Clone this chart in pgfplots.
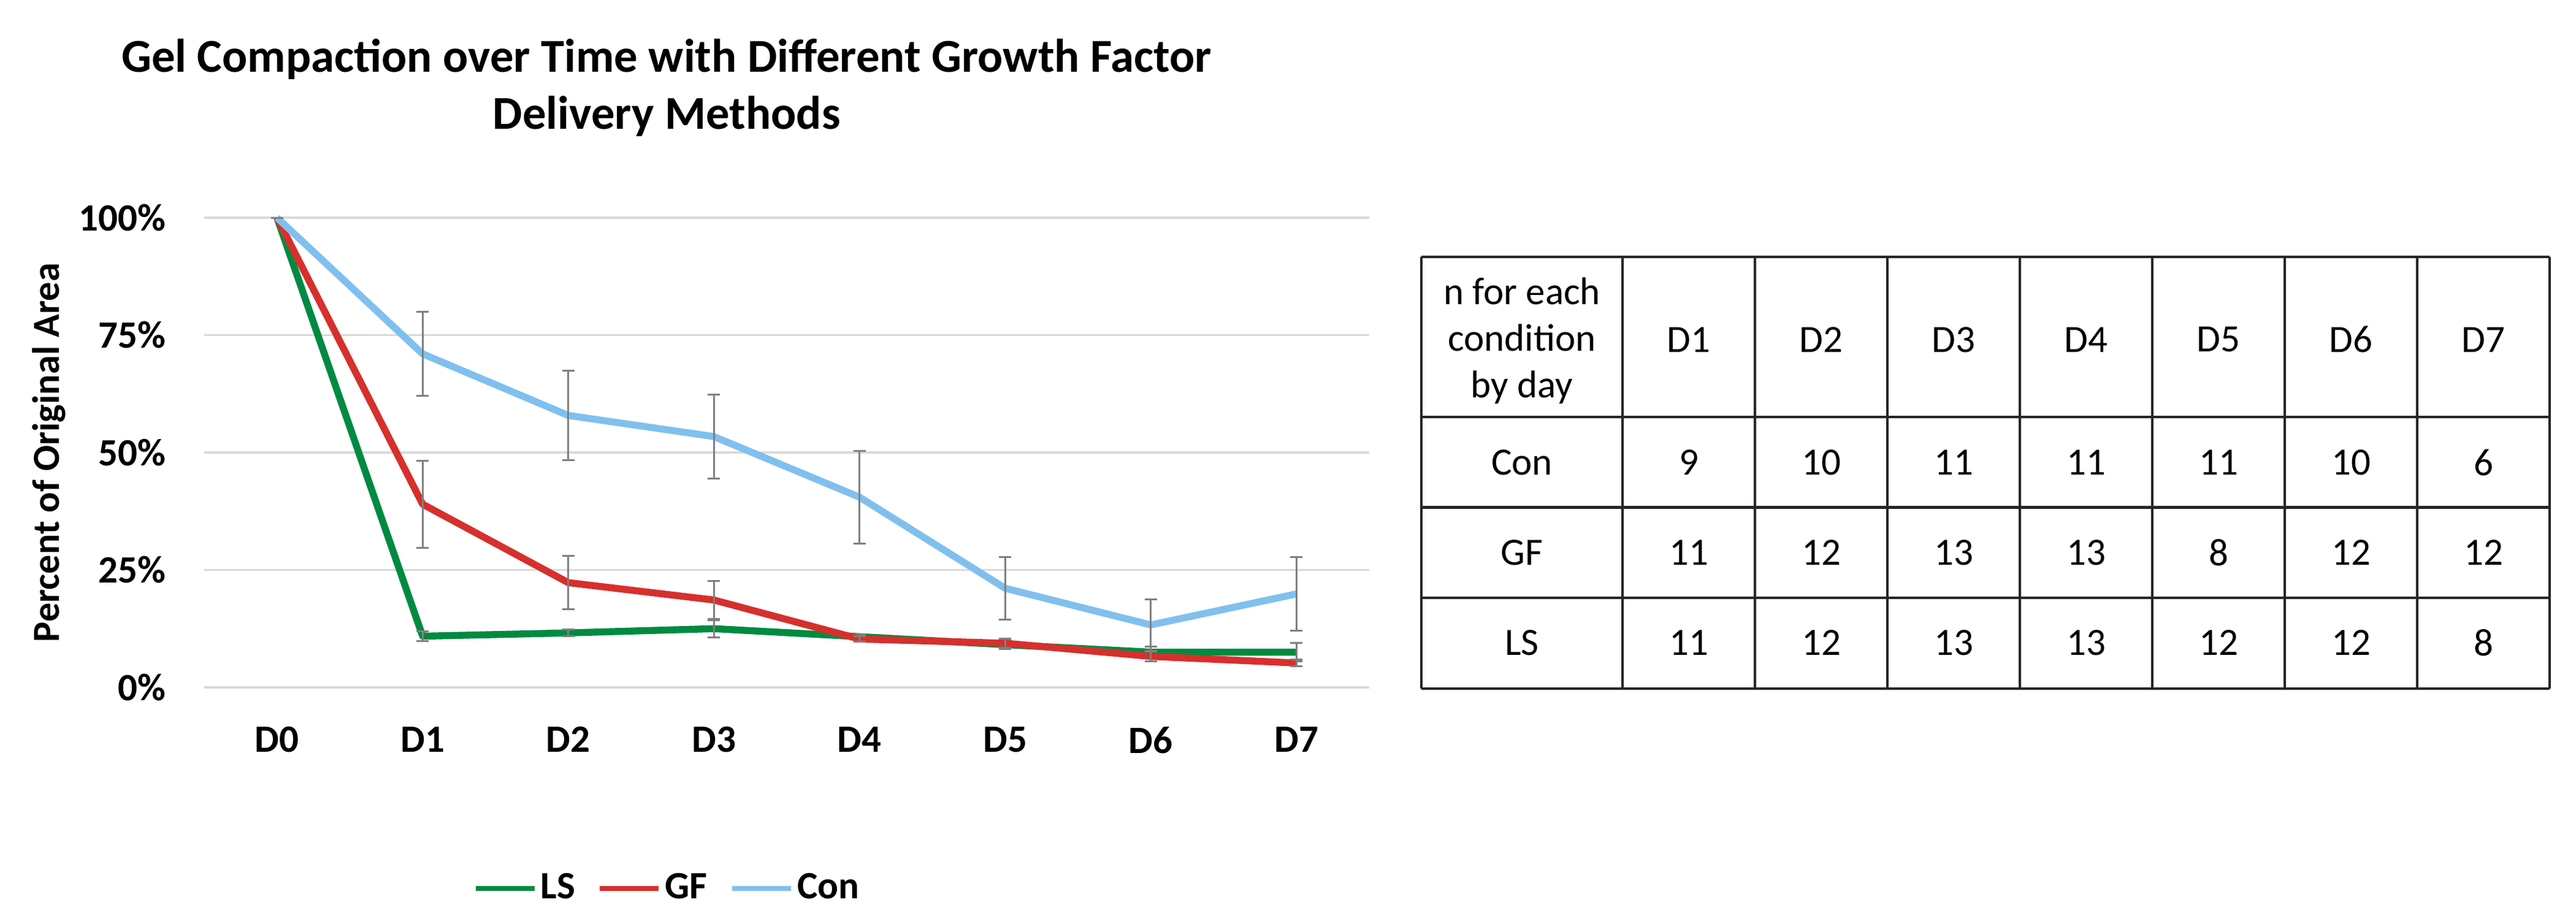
\documentclass[border=0pt]{standalone}
\usepackage{fontspec}
\setmainfont{Carlito}
\usepackage{pgfplots}
\pgfplotsset{compat=1.18}

\definecolor{lsgreen}{RGB}{0,138,66}
\definecolor{gfred}{RGB}{214,48,45}
\definecolor{conblue}{RGB}{128,192,238}
\definecolor{errgray}{RGB}{128,128,128}
\definecolor{gridgray}{RGB}{217,217,217}

\pgfplotsset{
  errs/.style={
    error bars/.cd, y dir=both, y explicit,
    error bar style={color=errgray, line width=0.5pt},
    error mark options={rotate=90, mark size=1.7pt, color=errgray, line width=0.5pt}
  }
}

\begin{document}
\begin{tikzpicture}
\path[use as bounding box] (0pt,0pt) rectangle (700.17pt,-250.17pt);

% title
\node[anchor=base, inner sep=0pt, font=\fontsize{12.8}{15}\selectfont\bfseries] at (181.2pt,-19.5pt)
  {Gel Compaction over Time with Different Growth Factor};
\node[anchor=base, inner sep=0pt, font=\fontsize{12.8}{15}\selectfont\bfseries] at (181.2pt,-35pt)
  {Delivery Methods};

\begin{axis}[
  at={(55.5pt,-186.83pt)}, anchor=south west,
  scale only axis, width=316.67pt, height=127.67pt,
  xmin=-0.5, xmax=7.5, ymin=0, ymax=100,
  clip=false,
  axis line style={draw=none},
  tick style={draw=none},
  ymajorgrids, major grid style={color=gridgray, line width=0.55pt},
  xtick={0,...,7}, xticklabels={D0,D1,D2,D3,D4,D5,D6,D7},
  ytick={0,25,50,75,100}, yticklabels={0\%,25\%,50\%,75\%,100\%},
  tick label style={font=\fontsize{10.5}{12.6}\selectfont\bfseries, inner sep=0pt},
  yticklabel style={anchor=east, xshift=-10.2pt},
  xticklabel style={anchor=north, yshift=-10.5pt},
  ylabel={Percent of Original Area},
  ylabel style={at={(axis description cs:-0.133,0.5)}, anchor=center,
    font=\fontsize{10.4}{12.5}\selectfont\bfseries},
  legend columns=3,
  legend style={at={(axis description cs:0.398,-0.428)}, anchor=center,
    draw=none, fill=none, font=\fontsize{10.5}{12.6}\selectfont\bfseries,
    nodes={inner sep=1pt},
    /tikz/every even column/.append style={column sep=5pt}},
  legend image code/.code={\draw[#1, line width=1.4pt] (0pt,0pt) -- (16pt,0pt);},
  every axis plot/.append style={line width=1.9pt, line join=round, mark=none},
]
\addplot[lsgreen, errs] coordinates {
  (0,100) +- (0,0)
  (1,10.9) +- (0,1.1)
  (2,11.6) +- (0,0.7)
  (3,12.5) +- (0,1.8)
  (4,10.8) +- (0,0.5)
  (5,9.1) +- (0,1.0)
  (6,7.5) +- (0,1.2)
  (7,7.5) +- (0,2.0)
};
\addlegendentry{LS}
\addplot[gfred, errs] coordinates {
  (0,100) +- (0,0)
  (1,39.0) +- (0,9.3)
  (2,22.3) +- (0,5.7)
  (3,18.6) +- (0,4.0)
  (4,10.3) +- (0,0.6)
  (5,9.4) +- (0,1.0)
  (6,6.6) +- (0,1.1)
  (7,5.2) +- (0,0.7)
};
\addlegendentry{GF}
\addplot[conblue, errs] coordinates {
  (0,100) +- (0,0)
  (1,71.0) +- (0,8.9)
  (2,57.9) +- (0,9.5)
  (3,53.4) +- (0,9.0)
  (4,40.5) +- (0,9.85)
  (5,21.1) +- (0,6.65)
  (6,13.3) +- (0,5.5)
  (7,19.9) +- (0,7.85)
};
\addlegendentry{Con}
\end{axis}

% table of n per condition and day
\begin{scope}[line width=0.75pt, black!85]
  \foreach \y in {-69.83,-113.33,-137.93,-162.53,-187.13}
    \draw (386.33pt,\y pt) -- (693pt,\y pt);
  \foreach \x in {386.33,441,477,513,549,585,621,657,693}
    \draw (\x pt,-69.83pt) -- (\x pt,-187.13pt);
\end{scope}
\begin{scope}[every node/.style={font=\fontsize{10.5}{12.7}\selectfont, inner sep=0pt, anchor=center}]
  \node[align=center] at (413.67pt,-92.6pt) {n for each\\condition\\by day};
  \foreach \d [count=\i from 0] in {D1,D2,D3,D4,D5,D6,D7}
    \node at ({459pt+36pt*\i},-92.3pt) {\d};
  \node at (413.67pt,-125.7pt) {Con};
  \node at (413.67pt,-150.2pt) {GF};
  \node at (413.67pt,-174.75pt) {LS};
  \foreach \v [count=\i from 0] in {9,10,11,11,11,10,6}
    \node at ({459pt+36pt*\i},-125.7pt) {\v};
  \foreach \v [count=\i from 0] in {11,12,13,13,8,12,12}
    \node at ({459pt+36pt*\i},-150.2pt) {\v};
  \foreach \v [count=\i from 0] in {11,12,13,13,12,12,8}
    \node at ({459pt+36pt*\i},-174.75pt) {\v};
\end{scope}
\end{tikzpicture}
\end{document}
